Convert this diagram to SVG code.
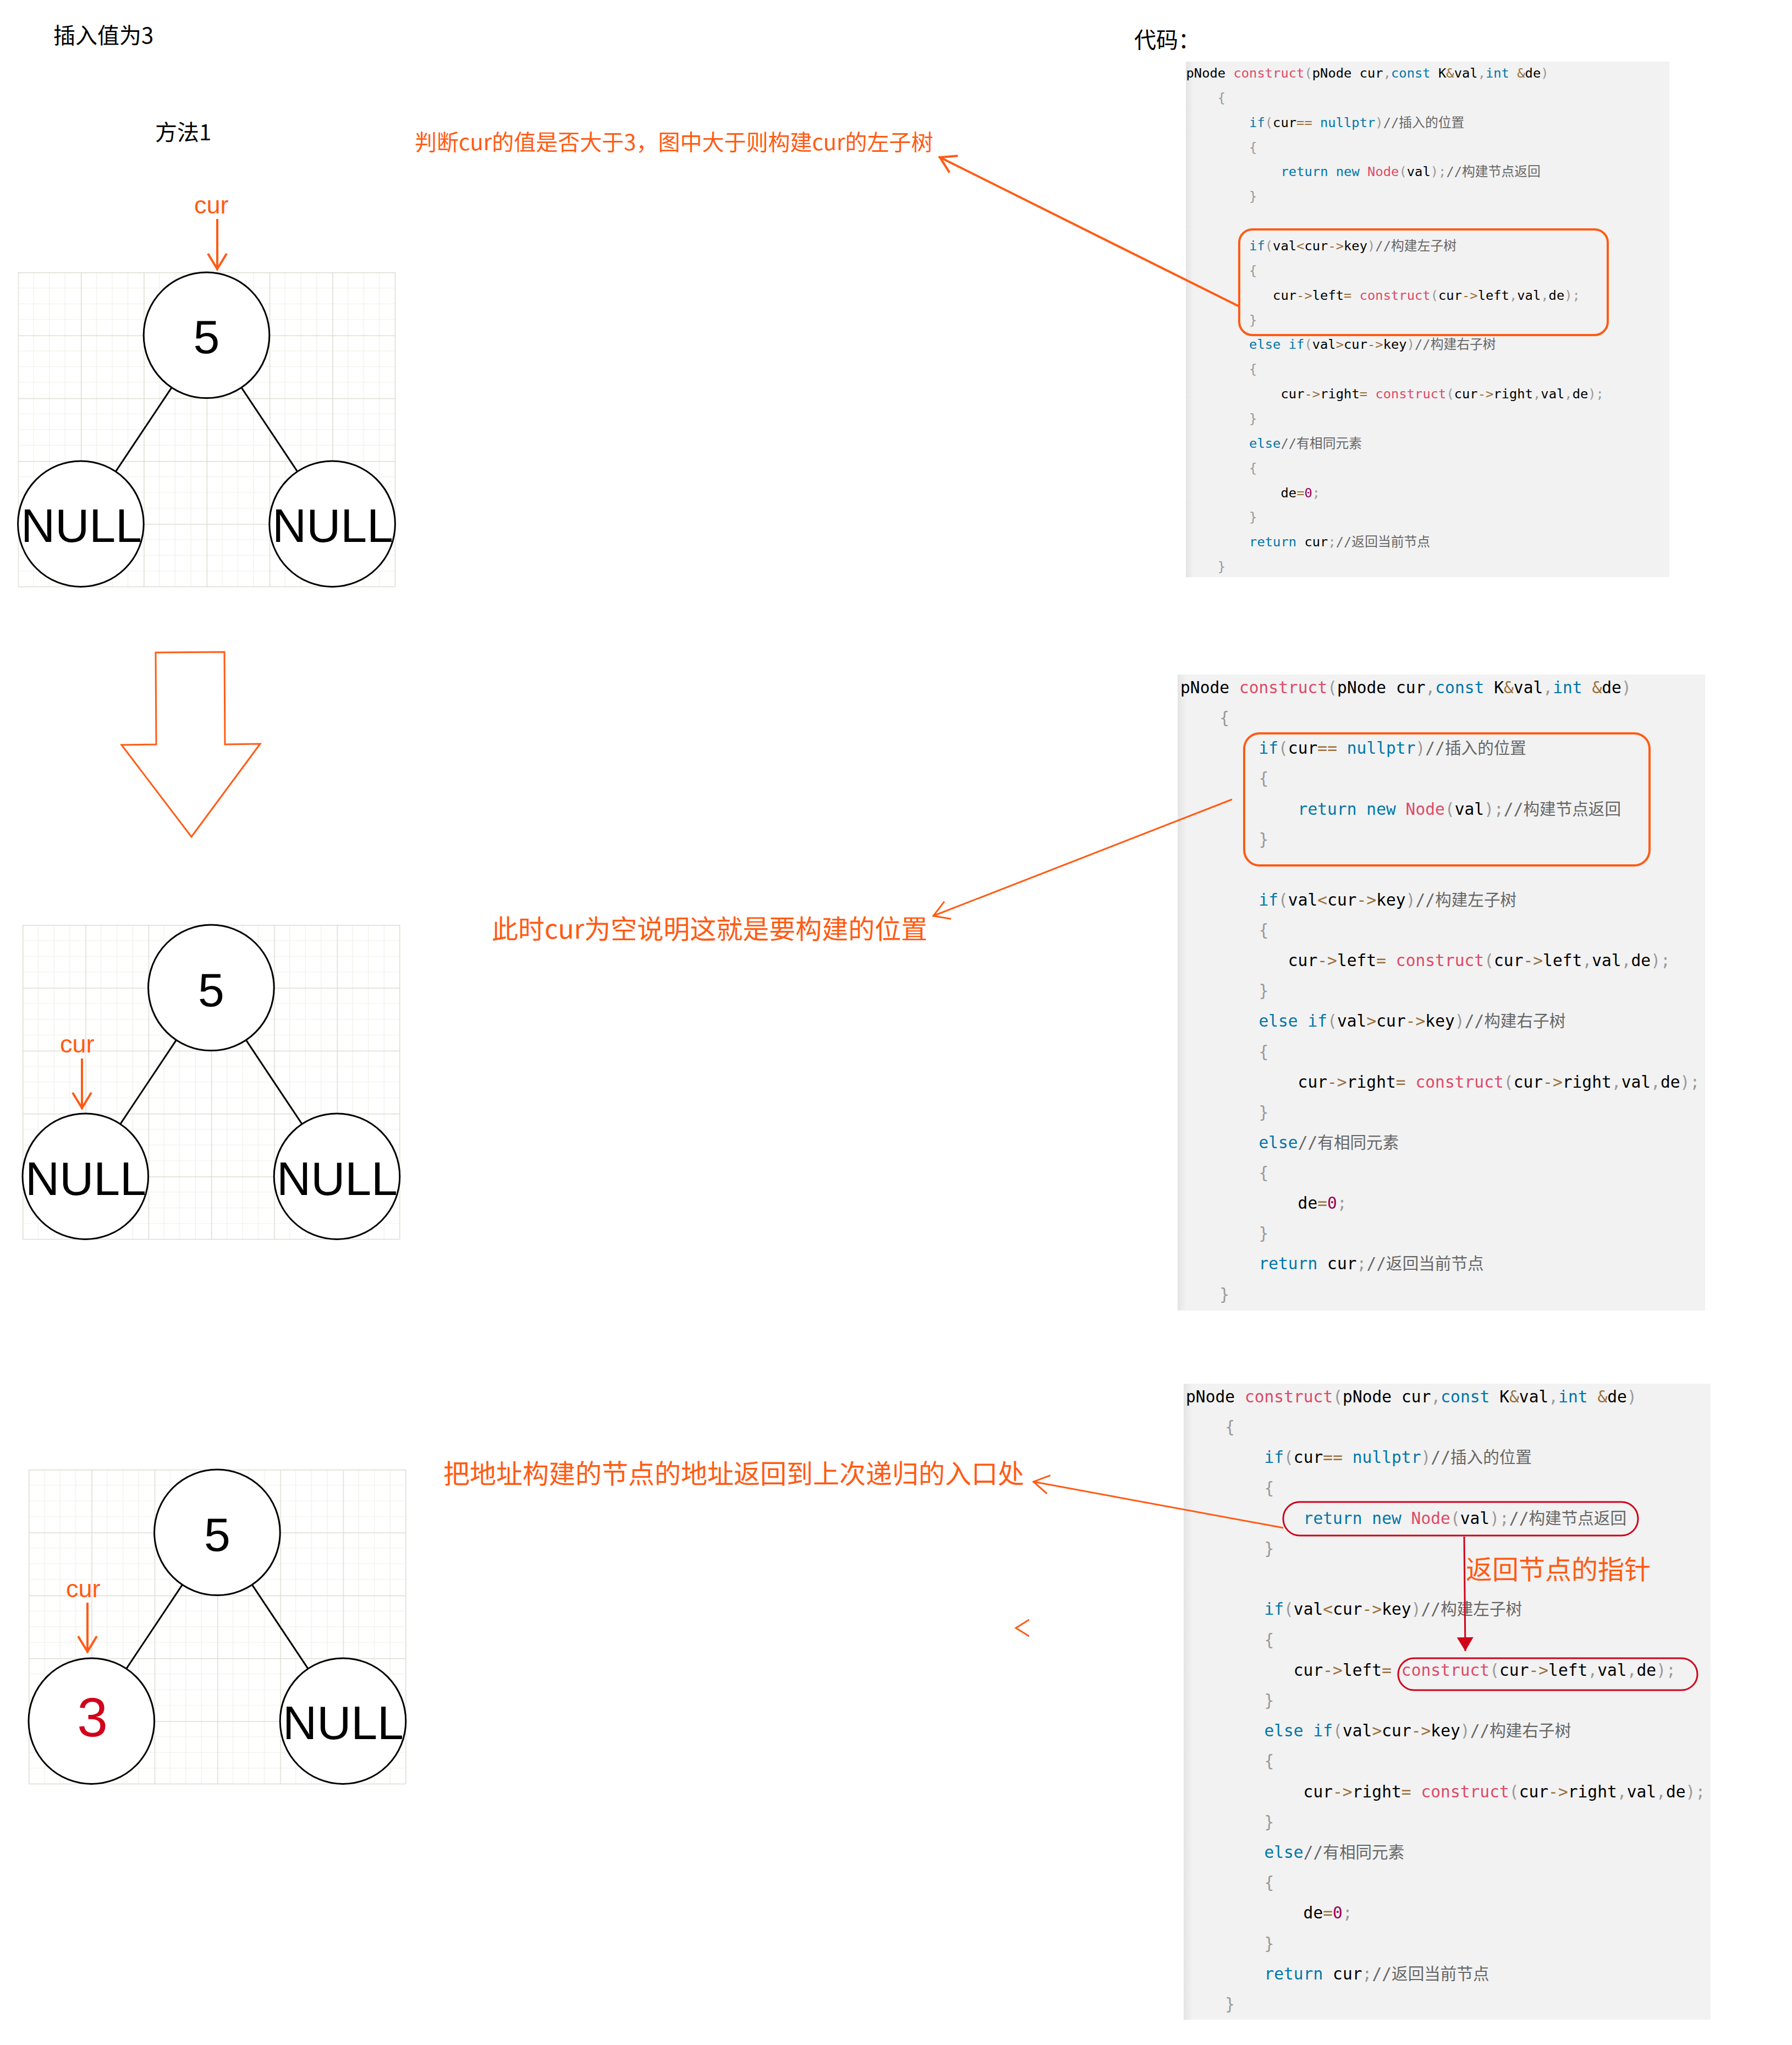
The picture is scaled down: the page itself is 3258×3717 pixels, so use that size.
<svg xmlns="http://www.w3.org/2000/svg" width="3258" height="3717" viewBox="0 0 3258 3717">
<style>
.title{font-family:"Noto Sans CJK SC","Noto Sans",sans-serif;font-size:40px;fill:#000}
.ann{font-family:"Noto Sans CJK SC","Noto Sans",sans-serif;fill:#FF5B14}
.curlbl{font-family:"Liberation Sans",Arial,sans-serif;font-size:45px;fill:#FF5B14}
.node circle{fill:#fff;stroke:#000;stroke-width:3}
.node text{font-family:"Liberation Sans",Arial,sans-serif;font-size:86px;text-anchor:middle;fill:#000}
.edge{stroke:#000;stroke-width:3;fill:none}
.oline{stroke:#FF5B14;fill:none}
.obox{stroke:#FF5B14;stroke-width:4;fill:none}
.rbox{stroke:#D0021B;stroke-width:3;fill:none}
.codebg{fill:#f2f2f2}
.code text{font-family:"DejaVu Sans Mono","Noto Sans CJK SC",monospace;white-space:pre;fill:#000}
.c1 text{font-size:23.8px}
.c2 text{font-size:29.6px}
.code .k{fill:#0077aa}
.code .f{fill:#DD4A68}
.code .o{fill:#9a6e3a}
.code .p{fill:#999}
.code .cm{fill:#666}
.code .n{fill:#990055}
</style>
<defs>
<pattern id="grid" width="114.3" height="114.3" patternUnits="userSpaceOnUse">
<path d="M28.575,0V114.3M57.15,0V114.3M85.725,0V114.3M0,28.575H114.3M0,57.15H114.3M0,85.725H114.3" stroke="#f0efe8" stroke-width="1.2"/>
<path d="M0.75,0V114.3M0,0.75H114.3" stroke="#dddcd2" stroke-width="1.5"/>
</pattern>
<linearGradient id="edgeShade" x1="0" y1="0" x2="1" y2="0">
<stop offset="0" stop-color="#e4e4e4"/>
<stop offset="1" stop-color="#f2f2f2"/>
</linearGradient>
<marker id="arrow4" markerUnits="userSpaceOnUse" markerWidth="40" markerHeight="44" viewBox="0 0 40 44" refX="34" refY="22" orient="auto" overflow="visible">
<path d="M4,5 L32,22 L4,39" fill="none" stroke="#FF5B14" stroke-width="4"/>
</marker>
<marker id="arrow3" markerUnits="userSpaceOnUse" markerWidth="40" markerHeight="44" viewBox="0 0 40 44" refX="33" refY="22" orient="auto" overflow="visible">
<path d="M4,5 L32,22 L4,39" fill="none" stroke="#FF5B14" stroke-width="3"/>
</marker>
<marker id="redTri" markerUnits="userSpaceOnUse" markerWidth="26" markerHeight="30" viewBox="0 0 26 30" refX="25" refY="15" orient="auto" overflow="visible">
<path d="M0,0 L25,15 L0,30 Z" fill="#D0021B"/>
</marker>
</defs>
<rect width="3258" height="3717" fill="#fff"/>

<!-- titles -->
<text class="title" x="97" y="79">插入值为3</text>
<text class="title" x="282" y="255">方法1</text>
<text class="title" x="2062" y="87">代码：</text>

<!-- grids -->
<g id="grid1" transform="translate(32.6,495)"><rect width="685.8" height="571.5" fill="url(#grid)"/><path d="M685.8,0V571.5M0,571.5H685.8" stroke="#dddcd2" stroke-width="1.5"/></g>
<g id="grid2" transform="translate(41,1681)"><rect width="685.8" height="571.5" fill="url(#grid)"/><path d="M685.8,0V571.5M0,571.5H685.8" stroke="#dddcd2" stroke-width="1.5"/></g>
<g id="grid3" transform="translate(52,2671)"><rect width="685.8" height="571.5" fill="url(#grid)"/><path d="M685.8,0V571.5M0,571.5H685.8" stroke="#dddcd2" stroke-width="1.5"/></g>

<!-- code block 1 -->
<g id="code1" class="code c1">
<rect class="codebg" x="2156" y="112" width="879" height="937"/>
<rect x="2156" y="112" width="14" height="937" fill="url(#edgeShade)"/>
<text x="2156.5" y="141">pNode <tspan class="f">construct</tspan><tspan class="p">(</tspan>pNode cur<tspan class="p">,</tspan><tspan class="k">const</tspan> K<tspan class="o">&amp;</tspan>val<tspan class="p">,</tspan><tspan class="k">int</tspan> <tspan class="o">&amp;</tspan>de<tspan class="p">)</tspan></text>
<text x="2213.8" y="185.9"><tspan class="p">{</tspan></text>
<text x="2271.1" y="230.7"><tspan class="k">if</tspan><tspan class="p">(</tspan>cur<tspan class="o">==</tspan> <tspan class="k">nullptr</tspan><tspan class="p">)</tspan><tspan class="cm">//插入的位置</tspan></text>
<text x="2271.1" y="275.6"><tspan class="p">{</tspan></text>
<text x="2328.5" y="320.4"><tspan class="k">return</tspan> <tspan class="k">new</tspan> <tspan class="f">Node</tspan><tspan class="p">(</tspan>val<tspan class="p">);</tspan><tspan class="cm">//构建节点返回</tspan></text>
<text x="2271.1" y="365.3"><tspan class="p">}</tspan></text>
<text x="2271.1" y="455"><tspan class="k">if</tspan><tspan class="p">(</tspan>val<tspan class="o">&lt;</tspan>cur<tspan class="o">-&gt;</tspan>key<tspan class="p">)</tspan><tspan class="cm">//构建左子树</tspan></text>
<text x="2271.1" y="499.8"><tspan class="p">{</tspan></text>
<text x="2314.1" y="544.7">cur<tspan class="o">-&gt;</tspan>left<tspan class="o">=</tspan> <tspan class="f">construct</tspan><tspan class="p">(</tspan>cur<tspan class="o">-&gt;</tspan>left<tspan class="p">,</tspan>val<tspan class="p">,</tspan>de<tspan class="p">);</tspan></text>
<text x="2271.1" y="589.5"><tspan class="p">}</tspan></text>
<text x="2271.1" y="634.4"><tspan class="k">else</tspan> <tspan class="k">if</tspan><tspan class="p">(</tspan>val<tspan class="o">&gt;</tspan>cur<tspan class="o">-&gt;</tspan>key<tspan class="p">)</tspan><tspan class="cm">//构建右子树</tspan></text>
<text x="2271.1" y="679.2"><tspan class="p">{</tspan></text>
<text x="2328.5" y="724.1">cur<tspan class="o">-&gt;</tspan>right<tspan class="o">=</tspan> <tspan class="f">construct</tspan><tspan class="p">(</tspan>cur<tspan class="o">-&gt;</tspan>right<tspan class="p">,</tspan>val<tspan class="p">,</tspan>de<tspan class="p">);</tspan></text>
<text x="2271.1" y="768.9"><tspan class="p">}</tspan></text>
<text x="2271.1" y="813.8"><tspan class="k">else</tspan><tspan class="cm">//有相同元素</tspan></text>
<text x="2271.1" y="858.6"><tspan class="p">{</tspan></text>
<text x="2328.5" y="903.5">de<tspan class="o">=</tspan><tspan class="n">0</tspan><tspan class="p">;</tspan></text>
<text x="2271.1" y="948.3"><tspan class="p">}</tspan></text>
<text x="2271.1" y="993.2"><tspan class="k">return</tspan> cur<tspan class="p">;</tspan><tspan class="cm">//返回当前节点</tspan></text>
<text x="2213.8" y="1038"><tspan class="p">}</tspan></text>
<rect class="obox" x="2253" y="417" width="670" height="192" rx="24"/>
</g>

<!-- code block 2 -->
<g id="code2" class="code c2">
<rect class="codebg" x="2141" y="1226" width="959" height="1156"/>
<rect x="2141" y="1226" width="16" height="1156" fill="url(#edgeShade)"/>
<text x="2146" y="1260">pNode <tspan class="f">construct</tspan><tspan class="p">(</tspan>pNode cur<tspan class="p">,</tspan><tspan class="k">const</tspan> K<tspan class="o">&amp;</tspan>val<tspan class="p">,</tspan><tspan class="k">int</tspan> <tspan class="o">&amp;</tspan>de<tspan class="p">)</tspan></text>
<text x="2217.2" y="1315.1"><tspan class="p">{</tspan></text>
<text x="2288.4" y="1370.3"><tspan class="k">if</tspan><tspan class="p">(</tspan>cur<tspan class="o">==</tspan> <tspan class="k">nullptr</tspan><tspan class="p">)</tspan><tspan class="cm">//插入的位置</tspan></text>
<text x="2288.4" y="1425.4"><tspan class="p">{</tspan></text>
<text x="2359.6" y="1480.5"><tspan class="k">return</tspan> <tspan class="k">new</tspan> <tspan class="f">Node</tspan><tspan class="p">(</tspan>val<tspan class="p">);</tspan><tspan class="cm">//构建节点返回</tspan></text>
<text x="2288.4" y="1535.7"><tspan class="p">}</tspan></text>
<text x="2288.4" y="1645.9"><tspan class="k">if</tspan><tspan class="p">(</tspan>val<tspan class="o">&lt;</tspan>cur<tspan class="o">-&gt;</tspan>key<tspan class="p">)</tspan><tspan class="cm">//构建左子树</tspan></text>
<text x="2288.4" y="1701"><tspan class="p">{</tspan></text>
<text x="2341.8" y="1756.2">cur<tspan class="o">-&gt;</tspan>left<tspan class="o">=</tspan> <tspan class="f">construct</tspan><tspan class="p">(</tspan>cur<tspan class="o">-&gt;</tspan>left<tspan class="p">,</tspan>val<tspan class="p">,</tspan>de<tspan class="p">);</tspan></text>
<text x="2288.4" y="1811.3"><tspan class="p">}</tspan></text>
<text x="2288.4" y="1866.4"><tspan class="k">else</tspan> <tspan class="k">if</tspan><tspan class="p">(</tspan>val<tspan class="o">&gt;</tspan>cur<tspan class="o">-&gt;</tspan>key<tspan class="p">)</tspan><tspan class="cm">//构建右子树</tspan></text>
<text x="2288.4" y="1921.5"><tspan class="p">{</tspan></text>
<text x="2359.6" y="1976.6">cur<tspan class="o">-&gt;</tspan>right<tspan class="o">=</tspan> <tspan class="f">construct</tspan><tspan class="p">(</tspan>cur<tspan class="o">-&gt;</tspan>right<tspan class="p">,</tspan>val<tspan class="p">,</tspan>de<tspan class="p">);</tspan></text>
<text x="2288.4" y="2031.7"><tspan class="p">}</tspan></text>
<text x="2288.4" y="2086.8"><tspan class="k">else</tspan><tspan class="cm">//有相同元素</tspan></text>
<text x="2288.4" y="2142"><tspan class="p">{</tspan></text>
<text x="2359.6" y="2197.1">de<tspan class="o">=</tspan><tspan class="n">0</tspan><tspan class="p">;</tspan></text>
<text x="2288.4" y="2252.2"><tspan class="p">}</tspan></text>
<text x="2288.4" y="2307.4"><tspan class="k">return</tspan> cur<tspan class="p">;</tspan><tspan class="cm">//返回当前节点</tspan></text>
<text x="2217.2" y="2362.6"><tspan class="p">}</tspan></text>
<rect class="obox" x="2262" y="1333" width="737" height="240" rx="28"/>
</g>

<!-- code block 3 -->
<g id="code3" class="code c2">
<rect class="codebg" x="2152" y="2515" width="958" height="1156"/>
<rect x="2152" y="2515" width="16" height="1156" fill="url(#edgeShade)"/>
<text x="2156" y="2549">pNode <tspan class="f">construct</tspan><tspan class="p">(</tspan>pNode cur<tspan class="p">,</tspan><tspan class="k">const</tspan> K<tspan class="o">&amp;</tspan>val<tspan class="p">,</tspan><tspan class="k">int</tspan> <tspan class="o">&amp;</tspan>de<tspan class="p">)</tspan></text>
<text x="2227.2" y="2604.2"><tspan class="p">{</tspan></text>
<text x="2298.4" y="2659.4"><tspan class="k">if</tspan><tspan class="p">(</tspan>cur<tspan class="o">==</tspan> <tspan class="k">nullptr</tspan><tspan class="p">)</tspan><tspan class="cm">//插入的位置</tspan></text>
<text x="2298.4" y="2714.6"><tspan class="p">{</tspan></text>
<text x="2369.6" y="2769.8"><tspan class="k">return</tspan> <tspan class="k">new</tspan> <tspan class="f">Node</tspan><tspan class="p">(</tspan>val<tspan class="p">);</tspan><tspan class="cm">//构建节点返回</tspan></text>
<text x="2298.4" y="2825"><tspan class="p">}</tspan></text>
<text x="2298.4" y="2935.4"><tspan class="k">if</tspan><tspan class="p">(</tspan>val<tspan class="o">&lt;</tspan>cur<tspan class="o">-&gt;</tspan>key<tspan class="p">)</tspan><tspan class="cm">//构建左子树</tspan></text>
<text x="2298.4" y="2990.6"><tspan class="p">{</tspan></text>
<text x="2351.8" y="3045.8">cur<tspan class="o">-&gt;</tspan>left<tspan class="o">=</tspan> <tspan class="f">construct</tspan><tspan class="p">(</tspan>cur<tspan class="o">-&gt;</tspan>left<tspan class="p">,</tspan>val<tspan class="p">,</tspan>de<tspan class="p">);</tspan></text>
<text x="2298.4" y="3101"><tspan class="p">}</tspan></text>
<text x="2298.4" y="3156.2"><tspan class="k">else</tspan> <tspan class="k">if</tspan><tspan class="p">(</tspan>val<tspan class="o">&gt;</tspan>cur<tspan class="o">-&gt;</tspan>key<tspan class="p">)</tspan><tspan class="cm">//构建右子树</tspan></text>
<text x="2298.4" y="3211.4"><tspan class="p">{</tspan></text>
<text x="2369.6" y="3266.6">cur<tspan class="o">-&gt;</tspan>right<tspan class="o">=</tspan> <tspan class="f">construct</tspan><tspan class="p">(</tspan>cur<tspan class="o">-&gt;</tspan>right<tspan class="p">,</tspan>val<tspan class="p">,</tspan>de<tspan class="p">);</tspan></text>
<text x="2298.4" y="3321.8"><tspan class="p">}</tspan></text>
<text x="2298.4" y="3377"><tspan class="k">else</tspan><tspan class="cm">//有相同元素</tspan></text>
<text x="2298.4" y="3432.2"><tspan class="p">{</tspan></text>
<text x="2369.6" y="3487.4">de<tspan class="o">=</tspan><tspan class="n">0</tspan><tspan class="p">;</tspan></text>
<text x="2298.4" y="3542.6"><tspan class="p">}</tspan></text>
<text x="2298.4" y="3597.8"><tspan class="k">return</tspan> cur<tspan class="p">;</tspan><tspan class="cm">//返回当前节点</tspan></text>
<text x="2227.2" y="3653"><tspan class="p">}</tspan></text>
<rect class="rbox" x="2333" y="2730" width="645" height="61" rx="30"/>
<rect class="rbox" x="2542" y="3014" width="544" height="58" rx="29"/>
</g>

<!-- connectors -->
<g id="connectors">
<path class="edge" d="M312.1,704.4L210.3,857.1"/>
<path class="edge" d="M438.9,704.4L540.7,857.1"/>
<path class="edge" d="M320.5,1890.4L218.7,2043.1"/>
<path class="edge" d="M447.3,1890.4L549.1,2043.1"/>
<path class="edge" d="M331.5,2880.4L229.7,3033.1"/>
<path class="edge" d="M458.3,2880.4L560.1,3033.1"/>
<path class="oline" stroke-width="4" d="M395,398V491" marker-end="url(#arrow4)"/>
<path class="oline" stroke-width="4" d="M149,1924V2016" marker-end="url(#arrow4)"/>
<path class="oline" stroke-width="4" d="M159,2913V3004" marker-end="url(#arrow4)"/>
<path class="oline" stroke-width="4" d="M2253,557L1707,285" marker-end="url(#arrow4)"/>
<path class="oline" stroke-width="3" d="M2240,1453L1696,1665" marker-end="url(#arrow3)"/>
<path class="oline" stroke-width="3" d="M2333,2777L1878,2693" marker-end="url(#arrow3)"/>
<path d="M2662,2793L2664,3001" stroke="#D0021B" stroke-width="3" fill="none" marker-end="url(#redTri)"/>
</g>

<!-- tree 1 -->
<g id="t1-root" class="node"><circle cx="375.5" cy="609.3" r="114.3"/><text x="375.5" y="642">5</text></g>
<g id="t1-left" class="node"><circle cx="146.9" cy="952.2" r="114.3"/><text x="148" y="985">NULL</text></g>
<g id="t1-right" class="node"><circle cx="604.1" cy="952.2" r="114.3"/><text x="605" y="985">NULL</text></g>
<text class="curlbl" x="353" y="388">cur</text>

<!-- big arrow -->
<polygon id="down-arrow" points="283,1186 408,1185 409,1353 473,1352 348,1521 221,1354 284,1353" fill="#fff" stroke="#FF5B14" stroke-width="3" stroke-linejoin="miter"/>

<!-- tree 2 -->
<g id="t2-root" class="node"><circle cx="383.9" cy="1795.3" r="114.3"/><text x="384" y="1829">5</text></g>
<g id="t2-left" class="node"><circle cx="155.3" cy="2138.2" r="114.3"/><text x="156" y="2172">NULL</text></g>
<g id="t2-right" class="node"><circle cx="612.5" cy="2138.2" r="114.3"/><text x="613" y="2172">NULL</text></g>
<text class="curlbl" x="109" y="1913">cur</text>

<!-- tree 3 -->
<g id="t3-root" class="node"><circle cx="394.9" cy="2785.3" r="114.3"/><text x="395" y="2819">5</text></g>
<g id="t3-left" class="node"><circle cx="166.3" cy="3128.2" r="114.3"/><text x="168" y="3156" style="fill:#D0021B;font-size:100px">3</text></g>
<g id="t3-right" class="node"><circle cx="623.5" cy="3128.2" r="114.3"/><text x="624" y="3161">NULL</text></g>
<text class="curlbl" x="120" y="2903">cur</text>

<!-- annotations -->
<text class="ann" x="754" y="273" font-size="40">判断cur的值是否大于3，图中大于则构建cur的左子树</text>
<text class="ann" x="894" y="1706" font-size="48">此时cur为空说明这就是要构建的位置</text>
<text class="ann" x="806" y="2696" font-size="48">把地址构建的节点的地址返回到上次递归的入口处</text>
<polyline points="1871,2944 1847,2959 1871,2974" fill="none" stroke="#FF5B14" stroke-width="3"/>
<text class="ann" x="2665" y="2870" font-size="48">返回节点的指针</text>
</svg>
